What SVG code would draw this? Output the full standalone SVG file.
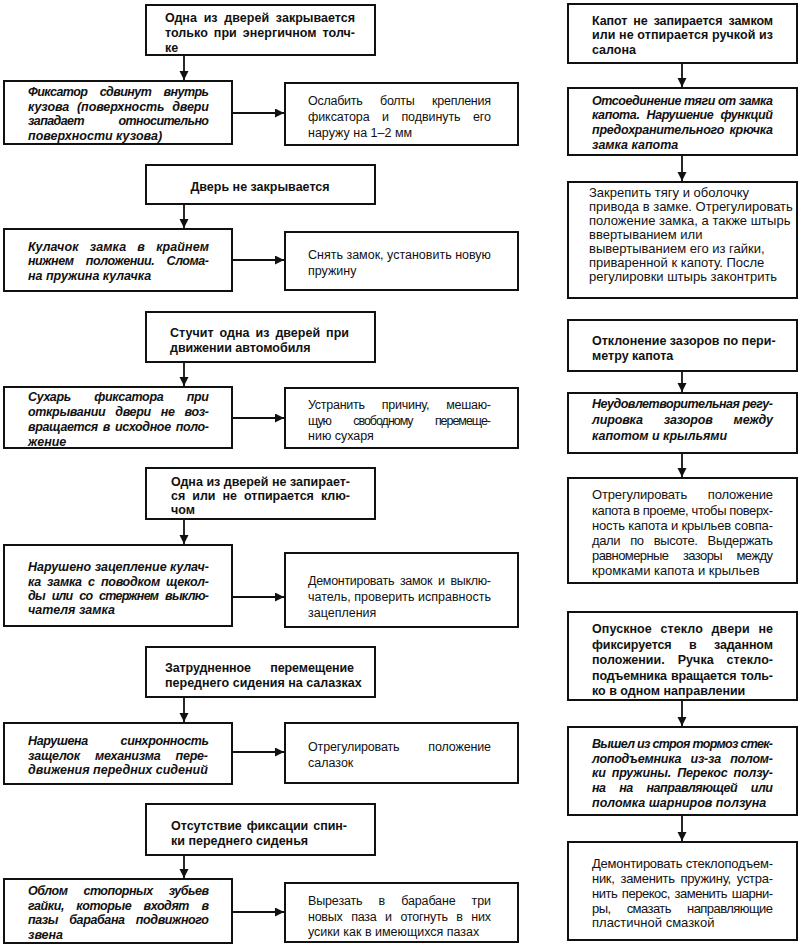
<svg xmlns="http://www.w3.org/2000/svg" width="800" height="946" viewBox="0 0 800 946">
<style>
.box{fill:#fff;stroke:#111;stroke-width:2}
text{fill:#111;font-family:"Liberation Sans",Arial,sans-serif}
.p{font-size:12.5px;font-weight:bold}
.c{font-size:12.5px;font-weight:bold;font-style:italic}
.r{font-size:12.5px}
.rr{font-size:13px}
.ln{fill:none;stroke:#111;stroke-width:1.8}
</style>
<defs>
<marker id="ah" markerUnits="userSpaceOnUse" markerWidth="10" markerHeight="10" refX="9" refY="4.5" orient="auto">
<path d="M0,0 L9,4.5 L0,9 z" fill="#111"/>
</marker>
</defs>

<g id="connectors">
<path class="ln" marker-end="url(#ah)" d="M184,55 V80"/>
<path class="ln" marker-end="url(#ah)" d="M184,204 V228"/>
<path class="ln" marker-end="url(#ah)" d="M184,362 V386"/>
<path class="ln" marker-end="url(#ah)" d="M184,519 V544"/>
<path class="ln" marker-end="url(#ah)" d="M184,697 V722"/>
<path class="ln" marker-end="url(#ah)" d="M184,855 V878"/>
<path class="ln" marker-end="url(#ah)" d="M232,113 H284"/>
<path class="ln" marker-end="url(#ah)" d="M232,260 H284"/>
<path class="ln" marker-end="url(#ah)" d="M232,418 H284"/>
<path class="ln" marker-end="url(#ah)" d="M232,597 H284"/>
<path class="ln" marker-end="url(#ah)" d="M232,752 H284"/>
<path class="ln" marker-end="url(#ah)" d="M232,912 H284"/>
<path class="ln" marker-end="url(#ah)" d="M682,63 V87"/>
<path class="ln" marker-end="url(#ah)" d="M682,155 V181"/>
<path class="ln" marker-end="url(#ah)" d="M682,371 V392"/>
<path class="ln" marker-end="url(#ah)" d="M682,453 V477"/>
<path class="ln" marker-end="url(#ah)" d="M682,700 V726"/>
<path class="ln" marker-end="url(#ah)" d="M682,815 V841"/>
</g>

<!-- LEFT COLUMN -->
<g id="a1">
<rect class="box" x="146" y="5" width="229" height="50"/>
<text class="p" x="165" y="22" textLength="190" lengthAdjust="spacing" word-spacing="3.3">Одна из дверей закрывается</text>
<text class="p" x="165" y="37" textLength="190" lengthAdjust="spacing" word-spacing="2.5">только при энергичном толч-</text>
<text class="p" x="165" y="52">ке</text>
</g>
<g id="b1">
<rect class="box" x="4" y="81" width="228" height="63"/>
<text class="c" x="28" y="96" textLength="181" lengthAdjust="spacing" word-spacing="9.5">Фиксатор сдвинут внутрь</text>
<text class="c" x="28" y="110.5" textLength="181" lengthAdjust="spacing" word-spacing="4.6">кузова (поверхность двери</text>
<text class="c" x="28" y="125" textLength="181" lengthAdjust="spacing" word-spacing="31.5">западает относительно</text>
<text class="c" x="28" y="139.5">поверхности кузова)</text>
</g>
<g id="c1">
<rect class="box" x="285" y="83" width="233" height="62"/>
<text class="r" x="308" y="105" textLength="183" lengthAdjust="spacing" word-spacing="14.3">Ослабить болты крепления</text>
<text class="r" x="308" y="121" textLength="183" lengthAdjust="spacing" word-spacing="9.1">фиксатора и подвинуть его</text>
<text class="r" x="308" y="137">наружу на 1–2 мм</text>
</g>

<g id="a2">
<rect class="box" x="146" y="165" width="229" height="39"/>
<text class="p" x="260" y="190.5" text-anchor="middle">Дверь не закрывается</text>
</g>
<g id="b2">
<rect class="box" x="4" y="229" width="228" height="62"/>
<text class="c" x="28" y="250.5" textLength="181" lengthAdjust="spacing" word-spacing="7.6">Кулачок замка в крайнем</text>
<text class="c" x="28" y="265" textLength="181" lengthAdjust="spacing" word-spacing="9.3">нижнем положении. Слома-</text>
<text class="c" x="28" y="279.5">на пружина кулачка</text>
</g>
<g id="c2">
<rect class="box" x="285" y="232" width="233" height="58"/>
<text class="r" x="308" y="259">Снять замок, установить новую</text>
<text class="r" x="308" y="275">пружину</text>
</g>

<g id="a3">
<rect class="box" x="146" y="312" width="229" height="50"/>
<text class="p" x="170" y="336.5" textLength="179" lengthAdjust="spacing" word-spacing="2.5">Стучит одна из дверей при</text>
<text class="p" x="170" y="351.5">движении автомобиля</text>
</g>
<g id="b3">
<rect class="box" x="4" y="387" width="228" height="61"/>
<text class="c" x="28" y="400.5" textLength="181" lengthAdjust="spacing" word-spacing="20.4">Сухарь фиксатора при</text>
<text class="c" x="28" y="415.5" textLength="181" lengthAdjust="spacing" word-spacing="6.8">открывании двери не воз-</text>
<text class="c" x="28" y="431" textLength="181" lengthAdjust="spacing" word-spacing="1.9">вращается в исходное поло-</text>
<text class="c" x="28" y="446">жение</text>
</g>
<g id="c3">
<rect class="box" x="285" y="388" width="233" height="60"/>
<text class="r" x="308" y="408.5" textLength="183" lengthAdjust="spacing" word-spacing="13.7">Устранить причину, мешаю-</text>
<text class="r" x="308" y="424.5" textLength="183" lengthAdjust="spacing" word-spacing="19.9">щую свободному перемеще-</text>
<text class="r" x="308" y="440">нию сухаря</text>
</g>

<g id="a4">
<rect class="box" x="146" y="468" width="229" height="51"/>
<text class="p" x="171" y="485.5" textLength="179" lengthAdjust="spacing">Одна из дверей не запирает-</text>
<text class="p" x="171" y="499.5" textLength="179" lengthAdjust="spacing" word-spacing="3.7">ся или не отпирается клю-</text>
<text class="p" x="171" y="513.5">чом</text>
</g>
<g id="b4">
<rect class="box" x="4" y="545" width="228" height="81"/>
<text class="c" x="28" y="570.5" textLength="181" lengthAdjust="spacing">Нарушено зацепление кулач-</text>
<text class="c" x="28" y="585.5" textLength="181" lengthAdjust="spacing" word-spacing="3">ка замка с поводком щекол-</text>
<text class="c" x="28" y="599.5" textLength="181" lengthAdjust="spacing" word-spacing="4">ды или со стержнем выклю-</text>
<text class="c" x="28" y="613.5">чателя замка</text>
</g>
<g id="c4">
<rect class="box" x="285" y="553" width="233" height="74"/>
<text class="r" x="308" y="584.5" textLength="183" lengthAdjust="spacing" word-spacing="2.6">Демонтировать замок и выклю-</text>
<text class="r" x="308" y="601" textLength="183" lengthAdjust="spacing">чатель, проверить исправность</text>
<text class="r" x="308" y="617">зацепления</text>
</g>

<g id="a5">
<rect class="box" x="146" y="647" width="229" height="50"/>
<text class="p" x="165" y="671.5" textLength="189" lengthAdjust="spacing" word-spacing="15.9">Затрудненное перемещение</text>
<text class="p" x="165" y="686.5">переднего сидения на салазках</text>
</g>
<g id="b5">
<rect class="box" x="4" y="723" width="228" height="61"/>
<text class="c" x="28" y="744.5" textLength="181" lengthAdjust="spacing" word-spacing="29.8">Нарушена синхронность</text>
<text class="c" x="28" y="759.5" textLength="180" lengthAdjust="spacing" word-spacing="11.9">защелок механизма пере-</text>
<text class="c" x="28" y="773.5">движения передних сидений</text>
</g>
<g id="c5">
<rect class="box" x="285" y="723" width="233" height="60"/>
<text class="r" x="308" y="751" textLength="183" lengthAdjust="spacing" word-spacing="25.5">Отрегулировать положение</text>
<text class="r" x="308" y="767">салазок</text>
</g>

<g id="a6">
<rect class="box" x="146" y="804" width="229" height="51"/>
<text class="p" x="171" y="829.5" textLength="176" lengthAdjust="spacing" word-spacing="1.5">Отсутствие фиксации спин-</text>
<text class="p" x="171" y="844.5">ки переднего сиденья</text>
</g>
<g id="b6">
<rect class="box" x="4" y="879" width="228" height="64"/>
<text class="c" x="28" y="894.5" textLength="181" lengthAdjust="spacing" word-spacing="13">Облом стопорных зубьев</text>
<text class="c" x="28" y="909.5" textLength="181" lengthAdjust="spacing" word-spacing="9.4">гайки, которые входят в</text>
<text class="c" x="28" y="923.5" textLength="181" lengthAdjust="spacing" word-spacing="8">пазы барабана подвижного</text>
<text class="c" x="28" y="938.5">звена</text>
</g>
<g id="c6">
<rect class="box" x="285" y="883" width="233" height="59"/>
<text class="r" x="308" y="905" textLength="183" lengthAdjust="spacing" word-spacing="12.8">Вырезать в барабане три</text>
<text class="r" x="308" y="921" textLength="183" lengthAdjust="spacing" word-spacing="5.4">новых паза и отогнуть в них</text>
<text class="r" x="308" y="936">усики как в имеющихся пазах</text>
</g>

<!-- RIGHT COLUMN -->
<g id="r1">
<rect class="box" x="568" y="4" width="229" height="59"/>
<text class="p" x="592" y="24.5" textLength="181" lengthAdjust="spacing" word-spacing="2.7">Капот не запирается замком</text>
<text class="p" x="592" y="39" textLength="181" lengthAdjust="spacing">или не отпирается ручкой из</text>
<text class="p" x="592" y="54">салона</text>
</g>
<g id="r2">
<rect class="box" x="568" y="88" width="229" height="67"/>
<text class="c" x="592" y="104.5" textLength="181" lengthAdjust="spacing">Отсоединение тяги от замка</text>
<text class="c" x="592" y="119" textLength="181" lengthAdjust="spacing" word-spacing="4">капота. Нарушение функций</text>
<text class="c" x="592" y="134" textLength="181" lengthAdjust="spacing" word-spacing="2.3">предохранительного крючка</text>
<text class="c" x="592" y="148.5">замка капота</text>
</g>
<g id="r3">
<rect class="box" x="568" y="182" width="229" height="116"/>
<text class="rr" x="589" y="197">Закрепить тягу и оболочку</text>
<text class="rr" x="589" y="211">привода в замке. Отрегулировать</text>
<text class="rr" x="589" y="225">положение замка, а также штырь</text>
<text class="rr" x="589" y="239">ввертыванием или</text>
<text class="rr" x="589" y="253">вывертыванием его из гайки,</text>
<text class="rr" x="589" y="267">приваренной к капоту. После</text>
<text class="rr" x="589" y="281">регулировки штырь законтрить</text>
</g>

<g id="r4">
<rect class="box" x="568" y="320" width="229" height="51"/>
<text class="p" x="592" y="344.5">Отклонение зазоров по пери-</text>
<text class="p" x="592" y="359.5">метру капота</text>
</g>
<g id="r5">
<rect class="box" x="568" y="393" width="229" height="60"/>
<text class="c" x="592" y="407.5" textLength="181" lengthAdjust="spacing">Неудовлетворительная регу-</text>
<text class="c" x="592" y="423.5" textLength="181" lengthAdjust="spacing" word-spacing="17.6">лировка зазоров между</text>
<text class="c" x="592" y="439.5">капотом и крыльями</text>
</g>
<g id="r6">
<rect class="box" x="568" y="478" width="229" height="105"/>
<text class="rr" x="592" y="498.5" textLength="181" lengthAdjust="spacing" word-spacing="17.4">Отрегулировать положение</text>
<text class="rr" x="592" y="514.5" textLength="181" lengthAdjust="spacing">капота в проеме, чтобы поверх-</text>
<text class="rr" x="592" y="529.5" textLength="181" lengthAdjust="spacing">ность капота и крыльев совпа-</text>
<text class="rr" x="592" y="544.5" textLength="181" lengthAdjust="spacing" word-spacing="6.8">дали по высоте. Выдержать</text>
<text class="rr" x="592" y="559.5" textLength="181" lengthAdjust="spacing" word-spacing="11.4">равномерные зазоры между</text>
<text class="rr" x="592" y="574.5">кромками капота и крыльев</text>
</g>

<g id="r7">
<rect class="box" x="568" y="612" width="229" height="88"/>
<text class="p" x="592" y="633" textLength="181" lengthAdjust="spacing" word-spacing="5.2">Опускное стекло двери не</text>
<text class="p" x="592" y="648.5" textLength="181" lengthAdjust="spacing" word-spacing="14">фиксируется в заданном</text>
<text class="p" x="592" y="664" textLength="181" lengthAdjust="spacing" word-spacing="9.3">положении. Ручка стекло-</text>
<text class="p" x="592" y="679.5" textLength="181" lengthAdjust="spacing" word-spacing="0.9">подъемника вращается толь-</text>
<text class="p" x="592" y="695">ко в одном направлении</text>
</g>
<g id="r8">
<rect class="box" x="568" y="727" width="229" height="88"/>
<text class="c" x="592" y="747.5" textLength="181" lengthAdjust="spacing">Вышел из строя тормоз стек-</text>
<text class="c" x="592" y="762.5" textLength="181" lengthAdjust="spacing" word-spacing="6.1">лоподъемника из-за полом-</text>
<text class="c" x="592" y="777" textLength="181" lengthAdjust="spacing" word-spacing="2.6">ки пружины. Перекос ползу-</text>
<text class="c" x="592" y="791.5" textLength="181" lengthAdjust="spacing" word-spacing="10.6">на на направляющей или</text>
<text class="c" x="592" y="806.5">поломка шарниров ползуна</text>
</g>
<g id="r9">
<rect class="box" x="568" y="842" width="229" height="98"/>
<text class="rr" x="592" y="867.5" textLength="181" lengthAdjust="spacing">Демонтировать стеклоподъем-</text>
<text class="rr" x="592" y="882.5" textLength="181" lengthAdjust="spacing" word-spacing="2.6">ник, заменить пружину, устра-</text>
<text class="rr" x="592" y="897.5" textLength="181" lengthAdjust="spacing" word-spacing="1.5">нить перекос, заменить шарни-</text>
<text class="rr" x="592" y="912.5" textLength="181" lengthAdjust="spacing" word-spacing="13.1">ры, смазать направляющие</text>
<text class="rr" x="592" y="926.5">пластичной смазкой</text>
</g>
</svg>
